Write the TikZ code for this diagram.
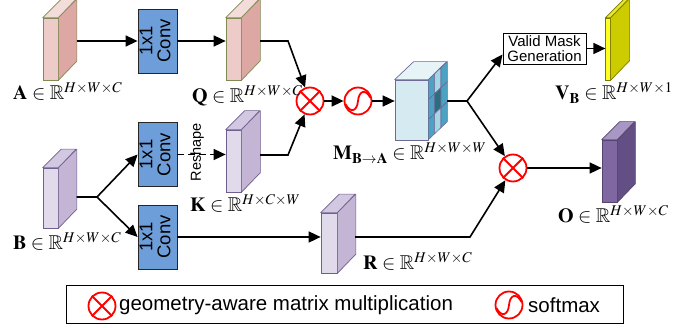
\documentclass[tikz,border=0pt]{standalone}
\usepackage{mathptmx}
\usepackage{amssymb}
\usepackage{graphicx}
\usepackage{fontspec}
\setsansfont{Liberation Sans}
\usetikzlibrary{arrows.meta,calc}

% palette
\definecolor{pinkF}{HTML}{EDCBC8}\definecolor{pinkS}{HTML}{DDA7A3}
\definecolor{pinkT}{HTML}{F3DCD9}\definecolor{pinkB}{HTML}{7F8A55}
\definecolor{lavF}{HTML}{E1DAEB}\definecolor{lavS}{HTML}{C4B5D5}
\definecolor{lavT}{HTML}{D3C8E2}\definecolor{lavB}{HTML}{6E5F8E}
\definecolor{purF}{HTML}{7F67A1}\definecolor{purS}{HTML}{644F84}
\definecolor{purT}{HTML}{A897C4}\definecolor{purB}{HTML}{564470}
\definecolor{yelF}{HTML}{FFFF22}\definecolor{yelS}{HTML}{CCCC00}
\definecolor{yelT}{HTML}{E6E633}\definecolor{yelB}{HTML}{7A7A00}
\definecolor{cubeF}{HTML}{D5EBF1}\definecolor{cubeS}{HTML}{4CA2C2}
\definecolor{cubeT}{HTML}{E6F4F8}\definecolor{cubeB}{HTML}{6E6A96}
\definecolor{cellL}{HTML}{A4D6E5}\definecolor{cellM}{HTML}{4CA2C2}
\definecolor{cellD}{HTML}{2A6E82}
\definecolor{convblue}{HTML}{6E9ED9}

\tikzset{
  flow/.style={line width=1.6pt, -{Triangle[length=12pt,width=11pt]}},
  plain/.style={line width=1.6pt},
  convbox/.style={draw=black!85, line width=0.8pt, fill=convblue,
    minimum width=39pt, minimum height=64pt, inner sep=0pt,
    font=\sffamily\fontsize{18.5}{17}\selectfont},
  opcircle/.style={circle, draw=red, line width=1.8pt, minimum size=27pt,
    inner sep=0pt, fill=white},
  mathlbl/.style={anchor=base west, inner sep=0pt, font=\fontsize{20}{20}\selectfont},
  sanslbl/.style={font=\sffamily\fontsize{15}{14.5}\selectfont, align=center},
}

% a feature slab: name, centre, width, height, depth, colour set
\newcommand{\slab}[6]{%
  \node[draw=#6B, fill=#6F, line width=0.7pt, minimum width=#3pt,
        minimum height=#4pt, inner sep=0pt] (#1) at #2 {};
  \filldraw[draw=#6B, fill=#6S, line width=0.7pt, line join=round]
    (#1.north east) -- ++(#5pt,#5pt) -- ++(0pt,-#4pt) -- (#1.south east) -- cycle;
  \filldraw[draw=#6B, fill=#6T, line width=0.7pt, line join=round]
    (#1.north west) -- ++(#5pt,#5pt) -- ++(#3pt,0pt) -- (#1.north east) -- cycle;
}

% product and softmax symbols
\newcommand{\crossmark}[1]{%
  \draw[red, line width=1.8pt] (#1.north west) -- (#1.south east)
    (#1.north east) -- (#1.south west);}
\newcommand{\softmark}[1]{%
  \draw[red, line width=1.8pt] ($(#1.center)+(-12.5pt,-3pt)$)
    .. controls ($(#1.center)+(-8pt,-12pt)$) and ($(#1.center)+(-1pt,-11pt)$) .. ($(#1.center)$)
    .. controls ($(#1.center)+(1pt,11pt)$) and ($(#1.center)+(8pt,12pt)$) .. ($(#1.center)+(12.5pt,3pt)$);}

\begin{document}
\begin{tikzpicture}[x=1pt, y=-1pt]
\useasboundingbox (0,0) rectangle (682,328);

% ---------- input feature maps and convolutions ----------
\slab{A}{(50.5,49)}{15}{62}{18.5}{pink}
\slab{Q}{(233.5,49)}{15}{62}{19}{pink}
\slab{B}{(50.5,198)}{15}{60}{18.5}{lav}
\slab{K}{(233.5,161)}{15}{62}{19}{lav}
\slab{R}{(329,243)}{16}{60}{18.5}{lav}
\slab{O}{(609.5,171)}{15}{62}{18}{pur}
\slab{V}{(608,49)}{4.5}{62}{19}{yel}

\node[convbox] (C1) at (157.5,41) {\rotatebox{90}{\begin{tabular}{@{}c@{}}1x1\\Conv\end{tabular}}};
\node[convbox] (C2) at (157.5,154.5) {\rotatebox{90}{\begin{tabular}{@{}c@{}}1x1\\Conv\end{tabular}}};
\node[convbox] (C3) at (157.5,237) {\rotatebox{90}{\begin{tabular}{@{}c@{}}1x1\\Conv\end{tabular}}};

% ---------- attention map cube ----------
\node[draw=cubeB, fill=cubeF, line width=0.7pt, minimum width=33pt,
      minimum height=60pt, inner sep=0pt] (M) at (411.5,110) {};
\filldraw[draw=cubeB, fill=cubeT, line width=0.7pt, line join=round]
  (M.north west) -- ++(19pt,18pt) -- ++(33pt,0pt) -- (M.north east) -- cycle;
\foreach \row/\cols in {0/{cellM,cellL,cellM}, 1/{cellM,cellD,cellM}, 2/{cellM,cellL,cellM}}{
  \foreach \c [count=\i from 0] in \cols {
    \filldraw[draw=cubeB, fill=\c, line width=0.6pt]
      ($(M.north east)+(\i*19/3 pt, \i*18/3 pt - \row*20 pt)$)
      -- ++(19/3 pt, 18/3 pt) -- ++(0pt,-20pt) -- ++(-19/3 pt,-18/3 pt) -- cycle;
  }
}

% ---------- operators ----------
\node[opcircle] (X1) at (310,101) {};
\node[opcircle] (S1) at (358,101) {};
\node[opcircle] (X2) at (513,168) {};
\crossmark{X1}\softmark{S1}\crossmark{X2}

\node[draw=black, line width=0.9pt, fill=white, minimum width=83pt,
      minimum height=31pt, inner sep=0pt, sanslbl] (VMG) at (544.5,48.5)
      {Valid Mask\\Generation};

% ---------- connector anchors ----------
\coordinate (Aout) at (76.5,41);
\coordinate (Qout) at (260,41);
\coordinate (Qbend) at (288,41);
\coordinate (Bout) at (76.5,197);
\coordinate (Bfork) at (97,197);
\coordinate (Kout) at (260,155);
\coordinate (Kbend) at (288,155);
\coordinate (Rout) at (355,237);
\coordinate (Rbend) at (470,237);
\coordinate (Mout) at (447,101);
\coordinate (Mfork) at (467,101);

% ---------- connectors ----------
\draw[flow] (Aout) -- (Aout -| C1.west);
\draw[flow] (C1.east) -- (C1.east -| Q.west);
\draw[flow] (Qout) -- (Qbend) -- (X1);
\draw[flow] (Bout) -- (Bfork) -- (C2.west);
\draw[flow] (Bfork) -- (C3.west);
\draw[flow, dash pattern=on 7pt off 4pt] (C2.east) -- (C2.east -| K.west);
\draw[flow] (Kout) -- (Kbend) -- (X1);
\draw[flow] (C3.east) -- (C3.east -| R.west);
\draw[flow] (Rout) -- (Rbend) -- (X2);
\draw[flow] (X1) -- (S1);
\draw[flow] (S1) -- (S1 -| M.west);
\draw[flow] (Mout) -- (Mfork) -- ([yshift=-6pt]VMG.west);
\draw[flow] (Mfork) -- (X2);
\draw[flow] (VMG.east) -- (VMG.east -| V.west);
\draw[flow] (X2) -- (X2 -| O.west);

\node[rotate=90, inner sep=0pt, font=\sffamily\fontsize{14.5}{14.5}\selectfont] (resh) at (197,152) {Reshape};

% ---------- labels ----------
\node[mathlbl] (lA) at (13,100) {$\mathbf{A}\in\mathbb{R}^{H\times W\times C}$};
\node[mathlbl] (lQ) at (192,103) {$\mathbf{Q}\in\mathbb{R}^{H\times W\times C}$};
\node[mathlbl] (lK) at (190,212) {$\mathbf{K}\in\mathbb{R}^{H\times C\times W}$};
\node[mathlbl] (lB) at (13,250) {$\mathbf{B}\in\mathbb{R}^{H\times W\times C}$};
\node[mathlbl] (lM) at (333,160) {$\mathbf{M}_{\mathbf{B}\rightarrow\mathbf{A}}\in\mathbb{R}^{H\times W\times W}$};
\node[mathlbl] (lV) at (555,100) {$\mathbf{V}_{\mathbf{B}}\in\mathbb{R}^{H\times W\times 1}$};
\node[mathlbl] (lO) at (558,223) {$\mathbf{O}\in\mathbb{R}^{H\times W\times C}$};
\node[mathlbl] (lR) at (363,270) {$\mathbf{R}\in\mathbb{R}^{H\times W\times C}$};

% ---------- legend ----------
\node[draw=black, line width=1pt, minimum width=557pt, minimum height=37pt,
      inner sep=0pt] (legend) at (344.5,304.5) {};
\node[opcircle] (LX) at (102,306) {};
\crossmark{LX}
\node[anchor=west, inner sep=0pt, font=\sffamily\fontsize{20.5}{20.5}\selectfont]
  (LXt) at (119,305) {geometry-aware matrix multiplication};
\node[opcircle] (LS) at (509,305) {};
\softmark{LS}
\node[anchor=west, inner sep=0pt, font=\sffamily\fontsize{20.5}{20.5}\selectfont]
  (LSt) at (528,305) {softmax};
\end{tikzpicture}
\end{document}
